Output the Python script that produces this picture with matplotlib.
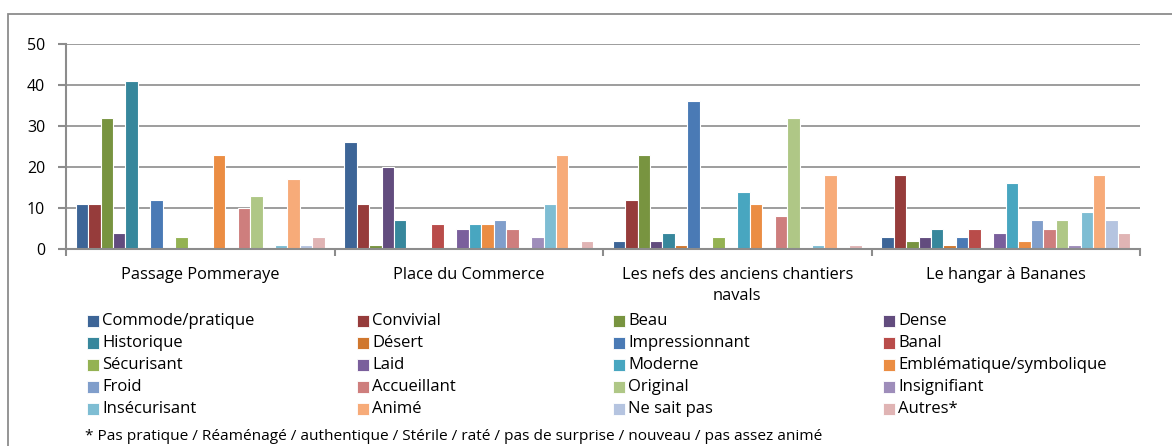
import matplotlib
matplotlib.use("Agg")
import matplotlib.pyplot as plt
from matplotlib.patches import Rectangle
import numpy as np

plt.rcParams['font.family'] = ['Open Sans', 'DejaVu Sans']

categories = ["Passage Pommeraye", "Place du Commerce",
              "Les nefs des anciens chantiers\nnavals", "Le hangar à Bananes"]

series_names = ["Commode/pratique", "Convivial", "Beau", "Dense",
                "Historique", "Désert", "Impressionnant", "Banal",
                "Sécurisant", "Laid", "Moderne", "Emblématique/symbolique",
                "Froid", "Accueillant", "Original", "Insignifiant",
                "Insécurisant", "Animé", "Ne sait pas", "Autres*"]

commode = [11, 26, 2, 3]
convivial = [11, 11, 12, 18]
beau = [32, 1, 23, 2]
dense = [4, 20, 2, 3]
historique = [41, 7, 4, 5]
desert = [0, 0, 1, 1]
impressionnant = [12, 0, 36, 3]
banal = [0, 6, 0, 5]
securisant = [3, 0, 3, 0]
laid = [0, 5, 0, 4]
moderne = [0, 6, 14, 16]
emblematique = [23, 6, 11, 2]
froid = [0, 7, 0, 7]
accueillant = [10, 5, 8, 5]
original = [13, 0, 32, 7]
insignifiant = [0, 3, 0, 1]
insecurisant = [1, 11, 1, 9]
anime = [17, 23, 18, 18]
ne_sait_pas = [1, 0, 0, 7]
autres = [3, 2, 1, 4]

values = [commode, convivial, beau, dense, historique, desert, impressionnant,
          banal, securisant, laid, moderne, emblematique, froid, accueillant,
          original, insignifiant, insecurisant, anime, ne_sait_pas, autres]

colors = ['#3D6597', '#963C3B', '#789440', '#624C7E', '#37879C', '#D0772E',
          '#4A7AB5', '#B94C4A', '#94B253', '#7A5F9C', '#48A6C0', '#EB8D43',
          '#809ECB', '#CE7E7D', '#AFC786', '#9E8DBA', '#7EBDD3', '#F7AB79',
          '#B5C4E0', '#E0B4B4']

footnote = ("* Pas pratique / Réaménagé / authentique / Stérile / raté / "
            "pas de surprise / nouveau / pas assez animé")

W, H = 1172, 446
fig = plt.figure(figsize=(W / 100, H / 100), dpi=100)

# outer frame (extends past the image bottom/right)
fig.patches.append(Rectangle((8 / W, -0.1), 1.2, (H - 14) / H + 0.1,
                             transform=fig.transFigure, fill=False,
                             edgecolor='#8C8C8C', linewidth=1.3))

ax_left, ax_right = 66, 1140
ax_top, ax_bottom = 44, 249
ax = fig.add_axes([ax_left / W, (H - ax_bottom) / H,
                   (ax_right - ax_left) / W, (ax_bottom - ax_top) / H])

n = len(series_names)
x = np.arange(len(categories))
bw = 1 / (n + 1.55)
for i, (name, vals, c) in enumerate(zip(series_names, values, colors)):
    v = np.asarray(vals, dtype=float)
    keep = v > 0
    ax.bar((x + (i - (n - 1) / 2) * bw)[keep], v[keep], width=bw, color=c,
           edgecolor='white', linewidth=0.8, zorder=2)

ax.set_xlim(-0.5, len(categories) - 0.5)
ax.set_ylim(0, 50)
ax.set_yticks(range(0, 51, 10))
ax.grid(axis='y', color='#8C8C8C', linewidth=1.2, zorder=0)
ax.set_axisbelow(True)

for s in ['top', 'right']:
    ax.spines[s].set_visible(False)
for s in ['left', 'bottom']:
    ax.spines[s].set_color('#8C8C8C')
    ax.spines[s].set_linewidth(1.5)
    ax.spines[s].set_zorder(3)

ax.set_xticks(x)
ax.set_xticklabels(categories, fontsize=11.8, linespacing=1.45)
ax.tick_params(axis='x', which='major', length=0, pad=13)
ax.set_xticks(np.arange(-0.5, len(categories), 1), minor=True)
ax.tick_params(axis='x', which='minor', length=5, color='#8C8C8C', width=1.5)
ax.tick_params(axis='y', length=6, color='#8C8C8C', width=1.5,
               labelsize=11.5, pad=9)

# legend, 4 columns x 5 rows
col_x = [87, 357, 613, 883]
row_y = [321, 343, 365, 387, 409]
for i, (name, c) in enumerate(zip(series_names, colors)):
    cx = col_x[i % 4]
    cy = row_y[i // 4]
    fig.patches.append(Rectangle((cx / W, (H - cy - 6) / H), 12 / W, 12 / H,
                                 transform=fig.transFigure, facecolor=c,
                                 edgecolor='white', linewidth=0.6))
    fig.text((cx + 15) / W, (H - cy) / H, name, fontsize=12,
             va='center', ha='left')

fig.text(85 / W, (H - 437) / H, footnote,
         fontsize=11.1, va='center', ha='left')

fig.savefig("out.png", dpi=100)
